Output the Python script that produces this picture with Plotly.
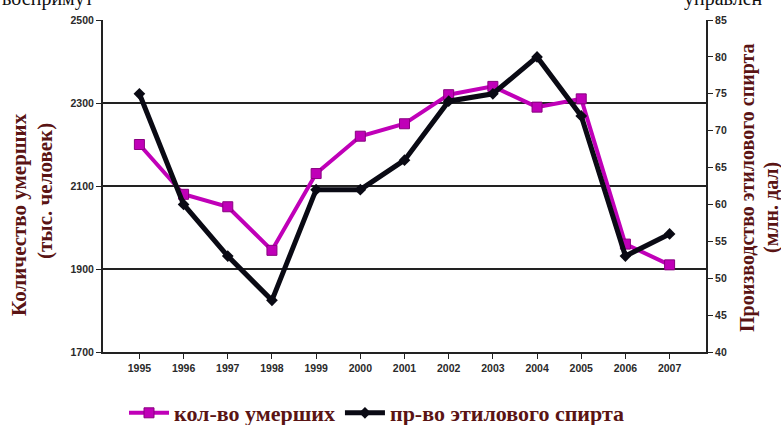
import plotly.graph_objects as go

years = [str(y) for y in range(1995, 2008)]
deaths = [2200, 2080, 2050, 1945, 2130, 2220, 2250, 2320, 2340, 2290, 2310, 1960, 1910]
alcohol = [75, 60, 53, 47, 62, 62, 66, 74, 75, 80, 72, 53, 56]

left_ticks = [1700, 1900, 2100, 2300, 2500]
right_ticks = [40, 45, 50, 55, 60, 65, 70, 75, 80, 85]

title_color = "#5a1414"
tick_font = dict(family="Liberation Sans", size=10.5, color="#2a2a2a", weight="bold")
serif = "'Liberation Serif', 'Times New Roman', serif"

fig = go.Figure()
fig.add_trace(go.Scatter(
    x=years, y=deaths, name="кол-во умерших", mode="lines+markers",
    line=dict(color="#c000b8", width=4),
    marker=dict(symbol="square", size=10, color="#c000b8", line=dict(color="#8a0080", width=1)),
    yaxis="y"))
fig.add_trace(go.Scatter(
    x=years, y=alcohol, name="пр-во этилового спирта", mode="lines+markers",
    line=dict(color="#0a0a14", width=5),
    marker=dict(symbol="diamond", size=9, color="#0a0a14"),
    yaxis="y2"))

fig.update_layout(
    width=781, height=425,
    margin=dict(l=103, r=75, t=20, b=73),
    paper_bgcolor="white", plot_bgcolor="white",
    showlegend=True,
    legend=dict(orientation="h", xref="container", yref="container",
                x=377 / 781, xanchor="center", y=1 - 413 / 425, yanchor="middle",
                font=dict(family=serif, size=22, color=title_color, weight="bold"),
                itemwidth=40, tracegroupgap=0, bgcolor="rgba(0,0,0,0)"),
    xaxis=dict(type="category", showline=True, linecolor="#222", linewidth=2,
               ticks="outside", ticklen=5, tickcolor="#222", tickwidth=1,
               tickfont=tick_font, showgrid=False, mirror=False, zeroline=False),
    yaxis=dict(range=[1700, 2500], tickvals=left_ticks, showline=True, linecolor="#222",
               linewidth=2, ticks="outside", ticklen=5, tickcolor="#222",
               tickfont=tick_font, showgrid=True, gridcolor="#222", gridwidth=2,
               zeroline=False),
    yaxis2=dict(range=[40, 85], tickvals=right_ticks, overlaying="y", side="right",
                showline=True, linecolor="#222", linewidth=2, ticks="outside", ticklen=5,
                tickcolor="#222", tickfont=tick_font, showgrid=False, zeroline=False),
    font=dict(family=serif),
)

annos = [
    dict(text="Количество умерших", x=19, y=215, size=21),
    dict(text="(тыс. человек)", x=45, y=191, size=21),
    dict(text="Производство этилового спирта", x=747, y=188, size=20),
    dict(text="(млн. дал)", x=771, y=208, size=20),
]
for a in annos:
    fig.add_annotation(
        text=a["text"], xref="paper", yref="paper",
        x=(a["x"] - 103) / 603, y=1 - (a["y"] - 20) / 332,
        showarrow=False, textangle=-90, xanchor="center", yanchor="middle",
        font=dict(family=serif, size=a["size"], color=title_color, weight="bold"))

# cropped scan text at top edges
fig.add_annotation(text="воспримут", xref="paper", yref="paper",
                   x=(0 - 103) / 603, y=1 + 22 / 332, xanchor="left", yanchor="middle",
                   showarrow=False, font=dict(family=serif, size=20, color="#111"))
fig.add_annotation(text="управлен", xref="paper", yref="paper",
                   x=(682 - 103) / 603, y=1 + 22 / 332, xanchor="left", yanchor="middle",
                   showarrow=False, font=dict(family=serif, size=20, color="#111"))

fig.write_html("out.html", post_script="document.body.style.margin='0';",
               config={"displayModeBar": False})
